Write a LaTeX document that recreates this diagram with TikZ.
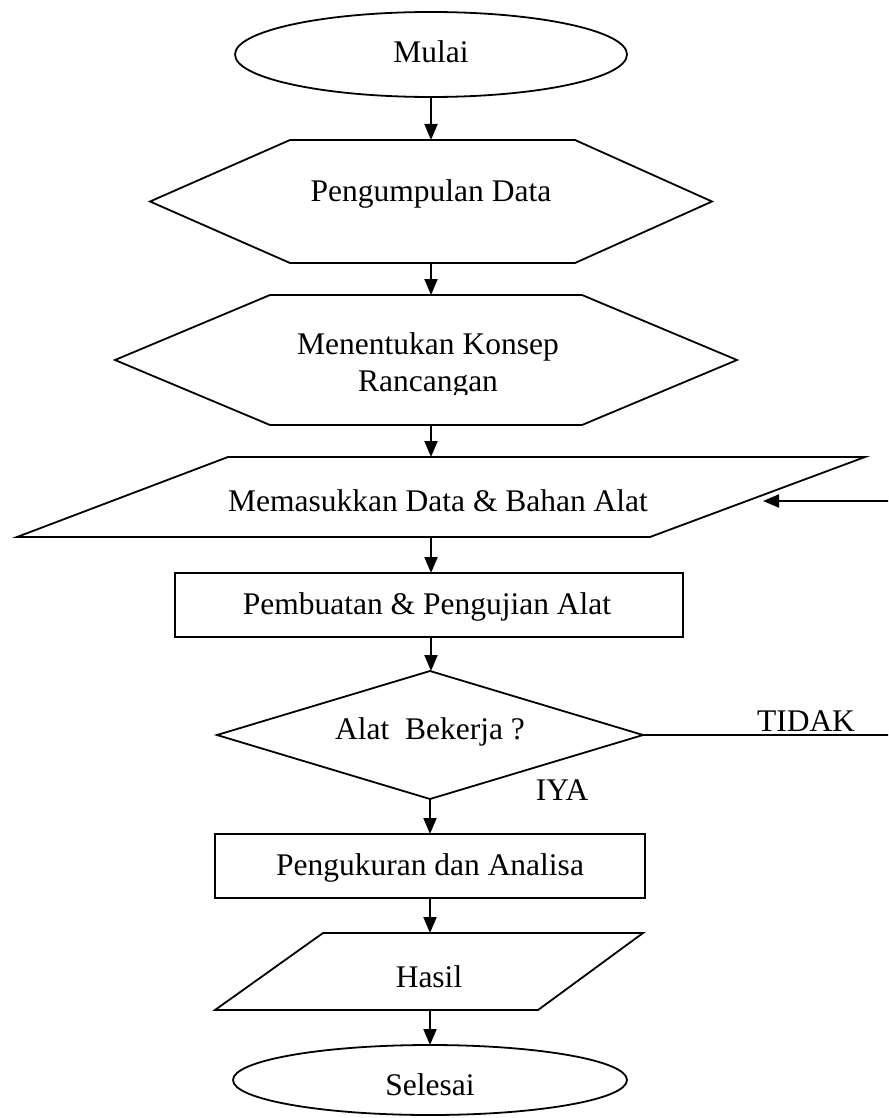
\documentclass[tikz,border=0pt]{standalone}
\usepackage{fontspec}
\setmainfont{Liberation Serif}
\usetikzlibrary{shapes.geometric,arrows.meta,calc}

\begin{document}
\begin{tikzpicture}[x=1pt,y=-1pt,
  outline/.style={draw, line width=1.8pt, line join=miter},
  frame/.style={inner sep=0pt, outer sep=0pt},
  lbl/.style={font=\fontsize{31.5}{36}\selectfont, inner sep=0pt, anchor=base},
  flow/.style={-{Triangle[length=16pt,width=13pt]}, line width=2pt},
  plain/.style={line width=1.8pt}]
\useasboundingbox (0,0) rectangle (888,1118);
\clip (0,0) rectangle (888,1118);

% main vertical axis of the flow and the return path
\coordinate (axis) at (431,0);
\coordinate (loopR) at (905,501);
\coordinate (inTip) at (763,501);

% Mulai
\node[ellipse, draw, frame, line width=1.8pt, minimum width=392pt, minimum height=85pt] (start) at (431,54.5) {};
\node[lbl] (startT) at (431,63) {Mulai};

% Pengumpulan Data
\node[frame, minimum width=562pt, minimum height=123pt] (collect) at (431,201.5) {};
\draw[outline] (collect.west) -- ($(collect.north west)+(140,0)$) -- ($(collect.north east)+(-137,0)$)
  -- (collect.east) -- ($(collect.south east)+(-137,0)$) -- ($(collect.south west)+(140,0)$) -- cycle;
\node[lbl] (collectT) at (431,201) {Pengumpulan Data};

% Menentukan Konsep Rancangan
\node[frame, minimum width=622pt, minimum height=130pt] (design) at (426,360) {};
\draw[outline] (design.west) -- ($(design.north west)+(155,0)$) -- ($(design.north east)+(-155,0)$)
  -- (design.east) -- ($(design.south east)+(-155,0)$) -- ($(design.south west)+(155,0)$) -- cycle;
\node[lbl] (designT1) at (428,354) {Menentukan Konsep};
\begin{scope}
  \clip (270,300) rectangle (582,394);
  \node[lbl] (designT2) at (428,391) {Rancangan};
\end{scope}

% Memasukkan Data & Bahan Alat
\node[frame, minimum width=848pt, minimum height=80pt] (input) at (441,497) {};
\draw[outline] (input.south west) -- ($(input.north west)+(211,0)$) -- (input.north east)
  -- ($(input.south east)+(-215,0)$) -- cycle;
\node[lbl] (inputT) at (438,511) {Memasukkan Data \& Bahan Alat};

% Pembuatan & Pengujian Alat
\node[outline, frame, minimum width=508pt, minimum height=64pt] (make) at (429,605) {};
\node[lbl] (makeT) at (427,614) {Pembuatan \& Pengujian Alat};

% Alat Bekerja ?
\node[frame, minimum width=426pt, minimum height=128pt] (test) at (430,735) {};
\draw[outline] (test.north) -- (test.east) -- (test.south) -- (test.west) -- cycle;
\node[lbl] (testT) at (430,739) {Alat\ \ Bekerja ?};
\node[lbl] (noT) at (806,731) {TIDAK};
\node[lbl] (yesT) at (562,800) {IYA};

% Pengukuran dan Analisa
\node[outline, frame, minimum width=430pt, minimum height=64pt] (measure) at (430,866) {};
\node[lbl] (measureT) at (430,875) {Pengukuran dan Analisa};

% Hasil
\node[frame, minimum width=428pt, minimum height=77pt] (result) at (429,971.5) {};
\draw[outline] (result.south west) -- ($(result.north west)+(108,0)$) -- (result.north east)
  -- ($(result.south east)+(-105,0)$) -- cycle;
\node[lbl] (resultT) at (429,987) {Hasil};

% Selesai
\node[ellipse, draw, frame, line width=1.8pt, minimum width=394pt, minimum height=70pt] (stop) at (430,1080) {};
\node[lbl] (stopT) at (430,1095) {Selesai};

% connectors
\draw[flow] (start.south) -- (axis |- collect.north);
\draw[flow] (axis |- collect.south) -- (axis |- design.north);
\draw[flow] (axis |- design.south) -- (axis |- input.north);
\draw[flow] (axis |- input.south) -- (axis |- make.north);
\draw[flow] (axis |- make.south) -- (axis |- test.north);
\draw[flow] (test.south) -- (test.south |- measure.north);
\draw[flow] (measure.south) -- (measure.south |- result.north);
\draw[flow] (stop.north |- result.south) -- (stop.north);
\draw[plain] (test.east) -| (loopR);
\draw[flow] (loopR) -- (inTip);
\end{tikzpicture}
\end{document}
